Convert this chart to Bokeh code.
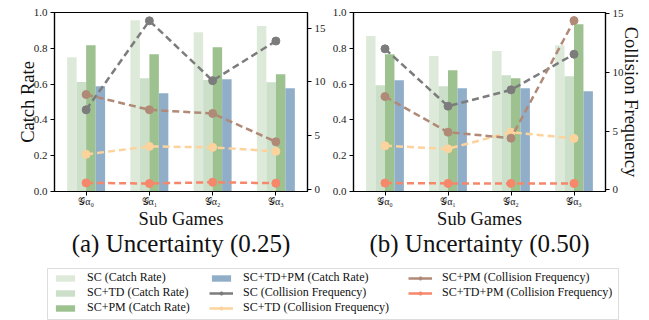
from bokeh.plotting import figure
from bokeh.models import (Range1d, LinearAxis, Title, Legend, LegendItem,
                          FixedTicker, ColumnDataSource)
from bokeh.transform import dodge
from bokeh.layouts import column, row
from bokeh.embed import file_html
from bokeh.resources import INLINE

SERIF = "Liberation Serif"

# ---------------- data ----------------
game_idx = [0, 1, 2, 3]
game_labels = ["𝒢α₀", "𝒢α₁", "𝒢α₂", "𝒢α₃"]

# (a) Uncertainty (0.25) - catch rate
sc_cr_a = [0.750, 0.957, 0.890, 0.925]
sctd_cr_a = [0.612, 0.632, 0.623, 0.610]
scpm_cr_a = [0.817, 0.767, 0.806, 0.655]
sctdpm_cr_a = [0.588, 0.549, 0.627, 0.577]
# (a) collision frequency
sc_cf_a = [7.41, 15.68, 10.12, 13.80]
sctd_cf_a = [3.27, 4.01, 3.92, 3.55]
scpm_cf_a = [8.83, 7.41, 7.07, 4.44]
sctdpm_cf_a = [0.62, 0.56, 0.68, 0.59]

# (b) Uncertainty (0.50) - catch rate
sc_cr_b = [0.869, 0.757, 0.785, 0.817]
sctd_cr_b = [0.593, 0.588, 0.649, 0.644]
scpm_cr_b = [0.767, 0.677, 0.632, 0.935]
sctdpm_cr_b = [0.621, 0.577, 0.577, 0.560]
# (b) collision frequency
sc_cf_b = [12.02, 7.13, 8.52, 11.56]
sctd_cf_b = [3.75, 3.49, 4.91, 4.38]
scpm_cf_b = [7.95, 4.91, 4.40, 14.43]
sctdpm_cf_b = [0.57, 0.54, 0.54, 0.54]

series = ["SC", "SC+TD", "SC+PM", "SC+TD+PM"]
bar_colors = ["#deead9", "#cbdfc9", "#9dc290", "#91aec8"]
line_colors = ["#7c7c7c", "#fdd39d", "#b08a77", "#f6876a"]
bar_offsets = [-0.225, -0.075, 0.075, 0.225]
BAR_W = 0.15


def style_axis(ax):
    ax.major_label_text_font = SERIF
    ax.major_label_text_font_size = "11px"
    ax.major_label_text_color = "#222222"
    ax.axis_label_text_font = SERIF
    ax.axis_label_text_font_style = "normal"
    ax.axis_label_text_font_size = "18.5px"
    ax.axis_label_text_color = "#111111"
    ax.major_tick_out = 4
    ax.major_tick_in = 0
    ax.minor_tick_out = 0
    ax.minor_tick_in = 0
    ax.axis_line_color = "black"
    ax.axis_line_width = 1.2
    ax.major_tick_line_color = "black"
    ax.major_label_standoff = 3


def make_panel(cr, cf, cf_range, title, left_label, right_label, bl, br, fw):
    p = figure(frame_width=fw, frame_height=179,
               min_border_left=bl, min_border_right=br,
               min_border_top=12, min_border_bottom=71,
               x_range=Range1d(-0.5, 3.5), y_range=Range1d(0, 1),
               output_backend="svg", toolbar_location=None,
               background_fill_color="white", border_fill_color="white")
    p.grid.visible = False
    p.outline_line_color = "black"
    p.outline_line_width = 1.2

    data = {"x": game_idx}
    for i, s in enumerate(series):
        data["cr%d" % i] = cr[i]
        data["cf%d" % i] = cf[i]
    src = ColumnDataSource(data)

    for i in range(4):
        p.vbar(x=dodge("x", bar_offsets[i], range=p.x_range), top="cr%d" % i,
               width=BAR_W, bottom=0, source=src,
               fill_color=bar_colors[i], line_color=None)

    p.extra_y_ranges = {"cf": Range1d(*cf_range)}
    for i in range(4):
        p.line(x="x", y="cf%d" % i, source=src, y_range_name="cf",
               line_color=line_colors[i], line_width=2.5, line_dash="7 4")
        p.scatter(x="x", y="cf%d" % i, source=src, y_range_name="cf",
                  size=8, fill_color=line_colors[i], line_color=line_colors[i])

    yt = [0, 0.2, 0.4, 0.6, 0.8, 1.0]
    yax = p.yaxis[0]
    yax.ticker = FixedTicker(ticks=yt)
    yax.major_label_overrides = {v: "%.1f" % v for v in yt}
    if left_label:
        yax.axis_label = left_label
    style_axis(yax)
    yax.axis_label_standoff = -7

    rax = LinearAxis(y_range_name="cf", ticker=FixedTicker(ticks=[0, 5, 10, 15]))
    if right_label:
        rax.axis_label = right_label
    style_axis(rax)
    rax.axis_label_standoff = -6
    p.add_layout(rax, "right")

    xax = p.xaxis[0]
    xax.ticker = FixedTicker(ticks=game_idx)
    xax.major_label_overrides = {i: lab for i, lab in zip(game_idx, game_labels)}
    xax.axis_label = "Sub Games"
    style_axis(xax)
    xax.major_label_text_font_size = "10px"
    xax.major_label_standoff = 0
    xax.axis_label_standoff = -1

    t = Title(text=title, align="center", text_font=SERIF, text_font_size="25px",
              text_font_style="normal", text_color="#111111", standoff=-8)
    p.add_layout(t, "below")
    return p, src


p1, src_a = make_panel([sc_cr_a, sctd_cr_a, scpm_cr_a, sctdpm_cr_a],
                       [sc_cf_a, sctd_cf_a, scpm_cf_a, sctdpm_cf_a],
                       (-0.18, 16.45), "(a) Uncertainty (0.25)", "Catch Rate", None,
                       54, 18, 253)
p2, src_b = make_panel([sc_cr_b, sctd_cr_b, scpm_cr_b, sctdpm_cr_b],
                       [sc_cf_b, sctd_cf_b, scpm_cf_b, sctdpm_cf_b],
                       (-0.15, 15.12), "(b) Uncertainty (0.50)", None, "Collision Frequency",
                       25, 47, 252)

# ---------------- legend figure ----------------
# the legend's renderers use the real data, kept outside this figure's view
p3 = figure(width=649, height=58, x_range=Range1d(100, 101), y_range=Range1d(100, 101),
            x_axis_type=None, y_axis_type=None,
            min_border_left=47, min_border_right=31, min_border_top=6, min_border_bottom=0,
            output_backend="svg", toolbar_location=None,
            outline_line_color="#dcdcdc", outline_line_width=1)
p3.grid.visible = False

items = []
for i, s in enumerate(series):
    r = p3.vbar(x="x", top="cr%d" % i, width=0.1, source=src_a,
                fill_color=bar_colors[i], line_color=None)
    items.append(LegendItem(label=s + " (Catch Rate)", renderers=[r]))
for i, s in enumerate(series):
    l = p3.line(x="x", y="cf%d" % i, source=src_a, line_color=line_colors[i], line_width=2.5)
    m = p3.scatter(x="x", y="cf%d" % i, source=src_a, size=8,
                   fill_color=line_colors[i], line_color=line_colors[i])
    items.append(LegendItem(label=s + " (Collision Frequency)", renderers=[l, m]))

FRAME_H = 58 - 6
cols = [items[0:3], items[3:6], items[6:8]]
col_x = [6, 162, 361]
for its, cx in zip(cols, col_x):
    nrows = len(its)
    lg = Legend(items=its, location=(cx, FRAME_H - 15 * nrows - 2), orientation="vertical",
                label_text_font=SERIF, label_text_font_size="12px",
                label_text_color="#111111", label_standoff=10,
                glyph_width=24, glyph_height=8, label_height=12,
                spacing=0, padding=0, margin=0,
                border_line_alpha=0, background_fill_alpha=0)
    p3.add_layout(lg)

layout = column(row(p1, p2), p3)

with open("out.html", "w") as f:
    f.write(file_html(layout, INLINE))
